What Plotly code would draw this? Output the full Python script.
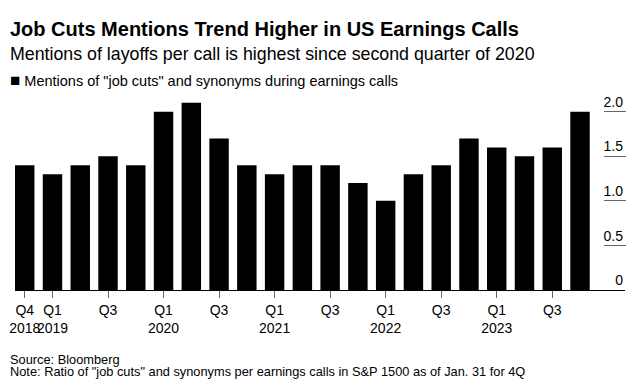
import plotly.graph_objects as go

categories = ["Q4 2018", "Q1 2019", "Q2 2019", "Q3 2019", "Q4 2019",
              "Q1 2020", "Q2 2020", "Q3 2020", "Q4 2020",
              "Q1 2021", "Q2 2021", "Q3 2021", "Q4 2021",
              "Q1 2022", "Q2 2022", "Q3 2022", "Q4 2022",
              "Q1 2023", "Q2 2023", "Q3 2023", "Q4 2023"]
values = [1.4, 1.3, 1.4, 1.5, 1.4,
          2.0, 2.1, 1.7, 1.4,
          1.3, 1.4, 1.4, 1.2,
          1.0, 1.3, 1.4, 1.7,
          1.6, 1.5, 1.6, 2.0]
tick_categories = ["Q4 2018", "Q1 2019", "Q3 2019", "Q1 2020", "Q3 2020",
                   "Q1 2021", "Q3 2021", "Q1 2022", "Q3 2022", "Q1 2023", "Q3 2023"]
tick_labels = ["Q4<br>2018", "Q1<br>2019", "Q3", "Q1<br>2020", "Q3",
               "Q1<br>2021", "Q3", "Q1<br>2022", "Q3", "Q1<br>2023", "Q3"]
y_ticks = [0, 0.5, 1.0, 1.5, 2.0]
y_tick_labels = ["0", "0.5", "1.0", "1.5", "2.0"]
series_name = 'Mentions of "job cuts" and synonyms during earnings calls'

FONT = "Liberation Sans, Arial, sans-serif"
W, H = 635, 389
YMAX = 2.3
PX_PER_UNIT = 89.1
B = 99
PH = YMAX * PX_PER_UNIT
T = H - B - PH

def py(px):
    return (H - B - px) / PH

fig = go.Figure()
fig.add_trace(go.Bar(
    x=categories, y=values,
    name=series_name,
    marker=dict(color="#000000", line=dict(width=0)),
    showlegend=False,
))

# narrow side subplot: its gridlines form the short dashes and it carries the value labels
fig.add_trace(go.Scatter(x=[0.5], y=[0], xaxis="x2", yaxis="y2", mode="markers",
                         marker=dict(opacity=0), showlegend=False, hoverinfo="skip"))

fig.update_layout(
    width=W, height=H,
    margin=dict(l=0, r=0, t=T, b=B, autoexpand=False),
    paper_bgcolor="white", plot_bgcolor="white",
    font=dict(family=FONT, color="#000000"),
    bargap=0.3,
    showlegend=False,
    xaxis=dict(
        type="category",
        categoryorder="array", categoryarray=categories,
        domain=[15 / W, 625 / W],
        range=[-0.35, 21.62],
        showline=True, linecolor="#000000", linewidth=1,
        ticks="outside", ticklen=7, tickcolor="#666666", tickwidth=1,
        tickmode="array", tickvals=tick_categories, ticktext=tick_labels,
        tickangle=0,
        tickfont=dict(size=14, color="#000000"),
        showgrid=False, zeroline=False, automargin=False,
    ),
    yaxis=dict(
        range=[0, YMAX],
        showline=False, showgrid=False, zeroline=False,
        ticks="", showticklabels=False, automargin=False,
    ),
    xaxis2=dict(
        domain=[604 / W, 626 / W], anchor="y2", range=[0, 1],
        visible=False, automargin=False,
    ),
    yaxis2=dict(
        range=[0, YMAX], anchor="x2", side="right",
        showline=False, zeroline=False,
        showgrid=True, gridcolor="#666666", gridwidth=1,
        tickmode="array", tickvals=y_ticks, ticktext=y_tick_labels,
        ticks="", ticklabelposition="inside top",
        tickfont=dict(size=14, color="#000000"), automargin=False,
    ),
    annotations=[
        dict(text="<b>Job Cuts Mentions Trend Higher in US Earnings Calls</b>",
             x=8 / W, y=py(29), xref="paper", yref="paper",
             xanchor="left", yanchor="middle", showarrow=False,
             font=dict(size=20, color="#000000")),
        dict(text="Mentions of layoffs per call is highest since second quarter of 2020",
             x=8 / W, y=py(54.5), xref="paper", yref="paper",
             xanchor="left", yanchor="middle", showarrow=False,
             font=dict(size=17.8, color="#000000")),
        dict(text='<span style="font-size:17px">■</span> ' + series_name,
             x=8 / W, y=py(80.5), xref="paper", yref="paper",
             xanchor="left", yanchor="middle", showarrow=False,
             font=dict(size=14.5, color="#000000")),
        dict(text="Source: Bloomberg",
             x=8 / W, y=py(359.5), xref="paper", yref="paper",
             xanchor="left", yanchor="middle", showarrow=False,
             font=dict(size=12.8, color="#000000")),
        dict(text='Note: Ratio of "job cuts" and synonyms per earnings calls in S&P 1500 as of Jan. 31 for 4Q',
             x=8 / W, y=py(371.5), xref="paper", yref="paper",
             xanchor="left", yanchor="middle", showarrow=False,
             font=dict(size=12.8, color="#000000")),
    ],
)

fig.write_html("out.html", config={"displayModeBar": False},
               post_script="document.body.style.margin='0';document.body.style.overflow='hidden';")
